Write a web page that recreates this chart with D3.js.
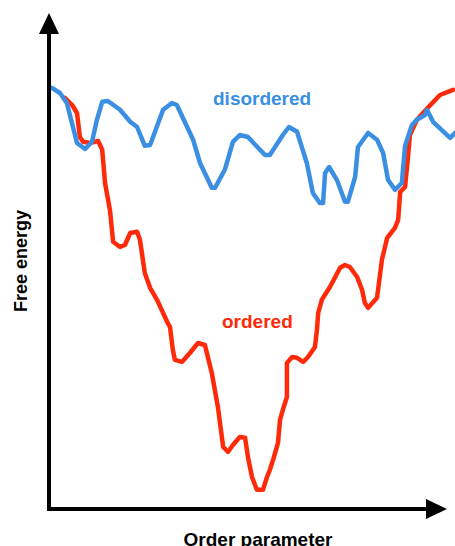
<!DOCTYPE html>
<html>
<head>
<meta charset="utf-8">
<script src="https://cdn.jsdelivr.net/npm/d3@7"></script>
<style>
  html, body { margin: 0; padding: 0; background: #fff; }
  svg { display: block; }
</style>
</head>
<body>
<div id="chart"></div>
<script>
// order parameter (0..100) vs free energy (arbitrary units)
const disorderedX = [0.7, 2.7, 4.4, 5.9, 6.9, 8.9, 10.6, 11.8, 13.1, 14.5, 17.5, 20.0, 21.7, 23.6, 24.9, 28.1, 30.3, 31.5, 35.5, 37.2, 40.1, 40.9, 43.3, 45.3, 47.0, 49.0, 53.2, 54.4, 57.6, 59.1, 61.1, 63.5, 65.0, 66.7, 67.5, 68.0, 69.0, 70.9, 72.9, 73.6, 75.4, 76.1, 78.6, 80.8, 82.3, 83.5, 85.2, 86.9, 87.7, 89.4, 90.6, 92.6, 93.1, 94.6, 98.8, 100.0];
const disorderedY = [105.3, 104.0, 101.5, 95.5, 91.5, 90.0, 91.8, 97.3, 101.8, 102.0, 99.8, 96.8, 95.5, 90.8, 91.0, 99.8, 101.5, 101.0, 92.3, 86.5, 80.3, 80.3, 84.8, 91.8, 93.5, 93.0, 88.5, 88.5, 93.5, 95.5, 94.3, 86.5, 79.0, 76.5, 76.5, 84.0, 85.5, 82.3, 76.8, 76.8, 83.0, 90.5, 94.0, 92.3, 89.0, 82.3, 79.8, 81.5, 90.8, 96.0, 97.3, 98.5, 99.8, 96.8, 92.8, 94.0];

const orderedX = [3.9, 5.7, 6.9, 7.6, 8.4, 10.1, 12.1, 13.1, 13.8, 15.0, 15.8, 17.5, 18.7, 20.0, 21.7, 22.4, 23.6, 24.9, 26.6, 29.1, 29.8, 30.5, 31.0, 32.8, 34.7, 36.7, 38.4, 40.1, 41.6, 42.9, 44.1, 45.3, 47.0, 48.3, 49.0, 50.0, 51.2, 52.7, 53.7, 54.4, 55.2, 56.4, 56.9, 57.6, 58.6, 58.6, 59.9, 61.1, 62.6, 63.8, 65.5, 66.0, 66.3, 67.2, 69.2, 71.7, 72.9, 74.1, 75.9, 77.1, 77.8, 78.6, 80.8, 82.0, 83.3, 85.2, 86.0, 86.5, 87.7, 88.4, 88.9, 90.6, 93.3, 96.3, 99.5];
const orderedY = [102.8, 101.0, 99.0, 93.0, 91.8, 91.5, 92.0, 89.8, 81.5, 74.8, 66.8, 65.5, 66.0, 69.0, 69.3, 67.3, 59.0, 55.3, 52.3, 46.8, 45.5, 39.8, 37.3, 36.8, 39.0, 41.5, 41.0, 34.0, 25.5, 15.5, 14.3, 16.0, 18.0, 17.8, 13.0, 8.0, 4.8, 4.8, 8.0, 9.8, 12.3, 16.5, 22.3, 24.8, 28.0, 36.5, 38.0, 37.8, 36.8, 38.0, 40.5, 44.8, 49.0, 52.3, 55.5, 60.3, 61.0, 60.5, 58.0, 54.8, 51.5, 50.3, 52.8, 62.3, 67.8, 70.3, 72.3, 79.3, 80.5, 87.8, 93.5, 97.3, 100.3, 103.5, 104.8];

const labels = { x: 'Order parameter', y: 'Free energy', disordered: 'disordered', ordered: 'ordered' };

const width = 455, height = 546;

const x = d3.scaleLinear().domain([0, 100]).range([49, 455]);
const y = d3.scaleLinear().domain([0, 100]).range([509, 109]);

const svg = d3.select('#chart')
  .append('svg')
  .attr('width', width)
  .attr('height', height);

const toPoints = (xs, ys) => xs.map((v, i) => [v, ys[i]]);

const line = d3.line()
  .x(d => x(d[0]))
  .y(d => y(d[1]));

/// CURVES
svg.append('path')
  .datum(toPoints(orderedX, orderedY))
  .attr('d', line)
  .attr('fill', 'none')
  .attr('stroke', '#ff2a0a')
  .attr('stroke-width', 4.5)
  .attr('stroke-linejoin', 'round')
  .attr('stroke-linecap', 'round');

svg.append('path')
  .datum(toPoints(disorderedX, disorderedY))
  .attr('d', line)
  .attr('fill', 'none')
  .attr('stroke', '#3a8fe2')
  .attr('stroke-width', 4.5)
  .attr('stroke-linejoin', 'round')
  .attr('stroke-linecap', 'round');

/// AXES with arrow heads
const x0 = x(0), y0 = y(0);
const yTip = 13, xTip = 447;

svg.append('line')
  .attr('x1', x0).attr('y1', y0 + 2)
  .attr('x2', x0).attr('y2', yTip + 18)
  .attr('stroke', '#000').attr('stroke-width', 4);

svg.append('line')
  .attr('x1', x0 - 2).attr('y1', y0)
  .attr('x2', xTip - 18).attr('y2', y0)
  .attr('stroke', '#000').attr('stroke-width', 4);

svg.append('path')
  .attr('d', `M${x0},${yTip} L${x0 + 10},${yTip + 21} L${x0 - 10},${yTip + 21} Z`)
  .attr('fill', '#000');

svg.append('path')
  .attr('d', `M${xTip},${y0} L${xTip - 21},${y0 - 10} L${xTip - 21},${y0 + 10} Z`)
  .attr('fill', '#000');

/// TEXT
const font = "'Liberation Sans', Arial, Helvetica, sans-serif";

svg.append('text')
  .attr('x', 258).attr('y', 546)
  .attr('text-anchor', 'middle')
  .style('font-family', font)
  .style('font-weight', 'bold')
  .style('font-size', '19px')
  .text(labels.x);

svg.append('text')
  .attr('transform', 'translate(27,261) rotate(-90)')
  .attr('text-anchor', 'middle')
  .style('font-family', font)
  .style('font-weight', 'bold')
  .style('font-size', '18px')
  .text(labels.y);

svg.append('text')
  .attr('x', 213).attr('y', 105)
  .style('font-family', font)
  .style('font-weight', 'bold')
  .style('font-size', '19px')
  .style('fill', '#3a8fe2')
  .text(labels.disordered);

svg.append('text')
  .attr('x', 222).attr('y', 328)
  .style('font-family', font)
  .style('font-weight', 'bold')
  .style('font-size', '19px')
  .style('fill', '#ff2a0a')
  .text(labels.ordered);
</script>
</body>
</html>
